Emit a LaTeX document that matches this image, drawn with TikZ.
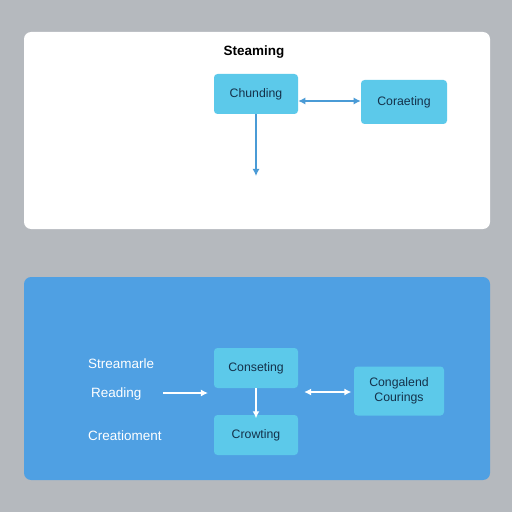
\documentclass[tikz,border=0pt]{standalone}
\usepackage{fontspec}
\setmainfont{Liberation Sans}
\usetikzlibrary{arrows.meta,positioning}

\definecolor{bggray}{HTML}{B5B9BE}
\definecolor{panelblue}{HTML}{4FA0E3}
\definecolor{boxcyan}{HTML}{5CC9EA}
\definecolor{boxtext}{HTML}{14314A}
\definecolor{linkblue}{HTML}{4A9BD6}

\begin{document}
\begin{tikzpicture}[x=0.03cm,y=-0.03cm,
  panel/.style={rounded corners=6pt},
  box/.style={rounded corners=3pt,minimum width=2.52cm,minimum height=1.2cm,
    font=\fontsize{10.5}{12.5}\selectfont, fill=boxcyan, text=boxtext, align=center},
  fw/.style={-{Latex[length=6pt,width=6pt]},line width=1.1pt,linkblue},
  bw/.style={{Latex[length=6pt,width=6pt]}-{Latex[length=6pt,width=6pt]},line width=1.1pt,linkblue},
  wfw/.style={-{Latex[length=6pt,width=6pt]},line width=1.5pt,white},
  wbw/.style={{Latex[length=6pt,width=6pt]}-{Latex[length=6pt,width=6pt]},line width=1.5pt,white},
  lab/.style={font=\fontsize{11.5}{13}\selectfont,text=white,anchor=west}]
  \fill[bggray] (0,0) rectangle (512,512);
  \useasboundingbox (0,0) rectangle (512,512);
  % top panel
  \fill[white,panel] (24,32) rectangle (490,229);
  \node[font=\fontsize{11.5}{13}\selectfont\bfseries] (title) at (254,52) {Steaming};
  \node[box] (chund) at (256,94) {Chunding};
  \node[box,minimum width=2.58cm,minimum height=1.32cm] (corae) at (404,102) {Coraeting};
  \coordinate (down) at (256,176);
  \draw[bw] (chund.east |- 0,101) -- (corae.west |- 0,101);
  \draw[fw] (chund.south) -- (down);
  % bottom panel
  \fill[panelblue,panel] (24,277) rectangle (490,480);
  \node[lab] (stream) at (84,364) {Streamarle};
  \node[lab] (read) at (87,394) {Reading};
  \node[lab] (creat) at (84,436) {Creatioment};
  \node[box] (conse) at (256,368) {Conseting};
  \node[box] (crowt) at (256,435) {Crowting};
  \node[box,minimum width=2.7cm,minimum height=1.47cm] (congl) at (399,391) {Congalend\\Courings};
  \coordinate (rdA) at (163,393);
  \coordinate (rdB) at (208,393);
  \draw[wfw] (rdA) -- (rdB);
  \draw[wfw] (conse.south) -- ([yshift=-3pt]crowt.north);
  \draw[wbw] ([xshift=5pt]conse.east |- 0,392) -- ([xshift=-2pt]congl.west |- 0,392);
\end{tikzpicture}
\end{document}
